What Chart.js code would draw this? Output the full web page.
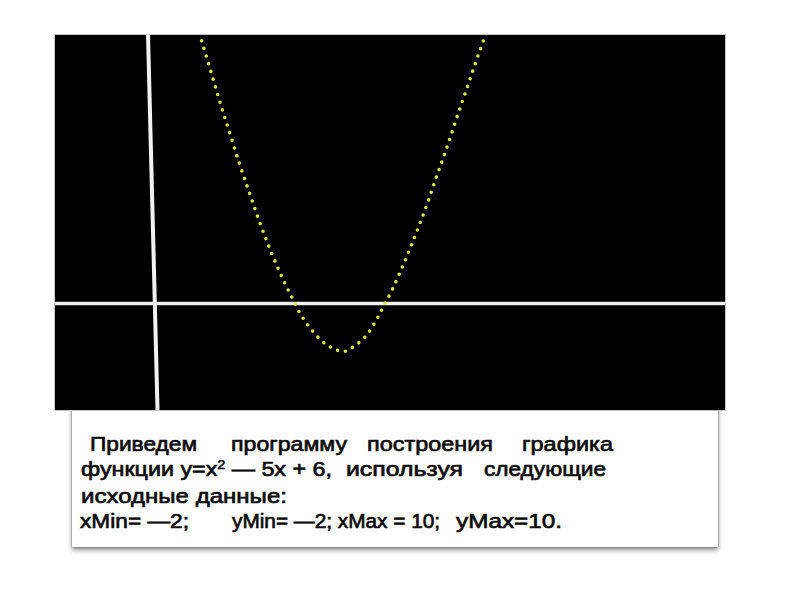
<!DOCTYPE html>
<html>
<head>
<meta charset="utf-8">
<script src="https://cdn.jsdelivr.net/npm/chart.js@4"></script>
<style>
  html, body { margin: 0; padding: 0; background: #fff; }
  body { width: 800px; height: 600px; position: relative; overflow: hidden; }
  #plot {
    position: absolute; left: 55px; top: 35px; width: 670px; height: 375px;
    background: #000; outline: 1px solid #c4c4c4; z-index: 2;
  }
  #note {
    position: absolute; left: 72px; top: 400px; width: 646px; height: 147px;
    background: #fff; z-index: 1;
    box-shadow: 0 3px 5px rgba(0,0,0,0.45), 0 0 2px rgba(0,0,0,0.5);
  }
  .w {
    position: absolute; white-space: pre; font-family: "Liberation Sans", Arial, sans-serif;
    font-size: 20px; line-height: 20px; color: #0a0a0a; transform-origin: 0 0;
    -webkit-text-stroke: 0.65px #0a0a0a; z-index: 3;
  }
  .w sup { font-size: 12px; line-height: 0; vertical-align: 7px; }
</style>
</head>
<body>
<div id="plot"><canvas id="chartCurve"></canvas></div>
<div id="note"></div>
<script>
// points of the dotted curve
const curveX = [0.901, 1.008, 1.123, 1.247, 1.356, 1.474, 1.594, 1.727, 1.875, 1.958,
  2.045, 2.151, 2.281, 2.364, 2.463, 2.523, 2.572, 2.663, 2.742, 2.810, 2.913, 3.0,
  3.088, 3.201, 3.307, 3.409, 3.503, 3.591, 3.682, 3.769, 3.856, 3.947, 4.034, 4.125, 4.159];
const curveY = [1.431, 1.266, 1.085, 0.902, 0.742, 0.581, 0.421, 0.262, 0.105, 0.028,
  -0.052, -0.124, -0.193, -0.223, -0.246, -0.254, -0.251, -0.225, -0.197, -0.163, -0.087, -0.010,
  0.068, 0.186, 0.304, 0.424, 0.544, 0.664, 0.782, 0.902, 1.024, 1.146, 1.266, 1.385, 1.431];

// the two white axis lines
const xAxisLineX = [-0.739, 6.875];
const xAxisLineY = [0, 0];
const yAxisLineX = [0.318, 0.426];
const yAxisLineY = [1.421, -0.5635];

const xRange = [-0.739, 6.875];
const yRange = [-0.5635, 1.421];

// text under the chart: [html, left, right, baseline]
const noteWords = [
  ["Приведем", 90, 197, 450],
  ["программу", 231, 347, 450],
  ["построения", 367, 493, 450],
  ["графика", 522, 613, 450],
  ["функции y=x<sup>2</sup> — 5x + 6,", 81, 332, 475],
  ["используя", 346, 463, 475],
  ["следующие", 484, 606, 475],
  ["исходные данные:", 81, 287, 502],
  ["xMin= —2;", 80, 189, 527],
  ["yMin= —2; xMax = 10;", 232, 440, 527],
  ["yMax=10.", 456, 562, 527],
];

const toPoints = (xs, ys) => xs.map((x, i) => ({ x: x, y: ys[i] }));

const dataCurve = {
  datasets: [
    {
      label: "y = x² − 5x + 6",
      data: toPoints(curveX, curveY),
      borderColor: "rgb(228, 228, 62)",
      borderWidth: 3.6,
      borderDash: [0, 8],
      borderCapStyle: "round",
      cubicInterpolationMode: "monotone",
      pointRadius: 0,
      clip: 0,
    },
    {
      label: "x axis",
      data: toPoints(xAxisLineX, xAxisLineY),
      borderColor: "#f2f2f2",
      borderWidth: 3.5,
      pointRadius: 0,
      clip: 0,
    },
    {
      label: "y axis",
      data: toPoints(yAxisLineX, yAxisLineY),
      borderColor: "#f2f2f2",
      borderWidth: 4,
      pointRadius: 0,
      clip: 0,
    },
  ],
};

const configCurve = {
  type: "line",
  data: dataCurve,
  options: {
    responsive: true,
    maintainAspectRatio: false,
    animation: false,
    layout: { padding: 0 },
    plugins: { legend: { display: false }, tooltip: { enabled: false } },
    scales: {
      x: { type: "linear", min: xRange[0], max: xRange[1], display: false },
      y: { type: "linear", min: yRange[0], max: yRange[1], display: false },
    },
  },
};

let chartCurve = new Chart(document.getElementById("chartCurve"), configCurve);

// place the text under the chart, each piece stretched to its width
noteWords.forEach(([html, left, right, base]) => {
  const s = document.createElement("span");
  s.className = "w";
  s.innerHTML = html;
  s.style.left = left + "px";
  s.style.top = (base - 16) + "px";
  document.body.appendChild(s);
  const w = s.getBoundingClientRect().width;
  s.style.transform = "scaleX(" + ((right - left) / w).toFixed(3) + ")";
});
</script>
</body>
</html>
